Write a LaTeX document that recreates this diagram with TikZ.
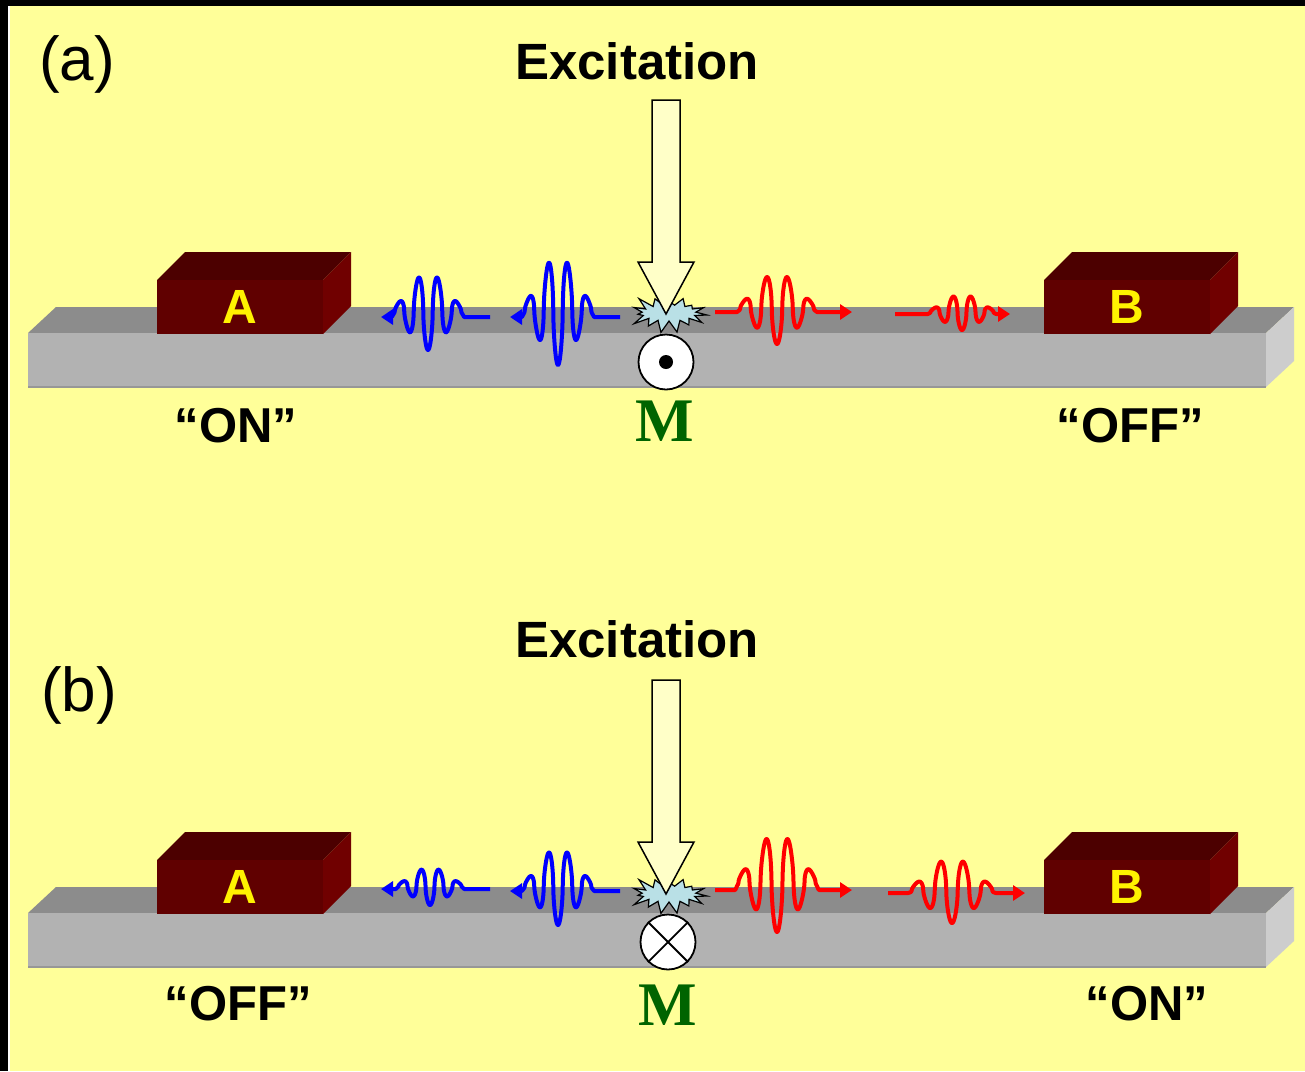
\documentclass[tikz,border=0pt]{standalone}
\usepackage{fontspec}
\setmainfont{Liberation Sans}
\newfontfamily\mfont{Liberation Serif}
\usetikzlibrary{arrows.meta,shapes.symbols}
\definecolor{paper}{HTML}{FFFF99}
\definecolor{railtop}{HTML}{8C8C8C}
\definecolor{railfront}{HTML}{B2B2B2}
\definecolor{railend}{HTML}{CDCDCD}
\definecolor{boxfront}{HTML}{600000}
\definecolor{boxtop}{HTML}{4C0000}
\definecolor{boxside}{HTML}{700000}
\definecolor{splash}{HTML}{B9E0E6}
\definecolor{pump}{HTML}{FFFFC8}
\definecolor{mgreen}{HTML}{006400}
\tikzset{
  pics/rail/.style args={#1/#2/#3/#4}{% #1=length, #2=thickness, #3=depth x, #4=depth y
    code = {
      % Top face
      \path[fill=railtop] (0,0) -- (#3,-#4) -- (#1+#3,-#4) -- (#1,0) -- cycle;
      % Front face
      \path[fill=railfront] (0,0) rectangle (#1,#2);
      % Right face
      \path[fill=railend] (#1,0) -- (#1+#3,-#4) -- (#1+#3,#2-#4) -- (#1,#2) -- cycle;
      \draw[railfront!85!black, line width=1.5pt] (0,#2) -- (#1,#2);
}}}
\tikzset{
  pics/block/.style args={#1/#2/#3/#4}{% #1=width, #2=height, #3=depth, #4=letter
    code = {
      % Top face
      \path[fill=boxtop] (0,0) -- (#3,-#3) -- (#1+#3,-#3) -- (#1,0) -- cycle;
      % Right face
      \path[fill=boxside] (#1,0) -- (#1+#3,-#3) -- (#1+#3,#2-#3) -- (#1,#2) -- cycle;
      % Front face
      \path[fill=boxfront] (0,0) rectangle (#1,#2);
      \node[text=yellow, font=\fontsize{48}{50}\selectfont\bfseries, inner sep=0pt] (-label) at (#1/2,#2/2) {#4};
}}}
\tikzset{
  pics/packet/.style args={#1/#2/#3/#4/#5}{% #1=amplitude, #2=wavelength, #3=tail, #4=run to tip, #5=tail drop
    code = {
      \coordinate (-in) at (-#3,#5);
      \coordinate (-out) at (#4,#5);
      \draw[line width=4pt, -{Triangle[length=12pt,width=15pt]}, line join=round] (-in)
        -- (-1.9*#2,#5)
        -- plot[domain=-1.8*#2:1.8*#2, samples=241]
           (\x,{#1*exp(-(\x/(1.25*#2))^2)*cos(360*\x/#2)/(abs(cos(360*\x/#2))+0.002)^0.45})
        -- (1.9*#2,#5) -- (-out);
}}}
\tikzset{
  pics/pump/.style args={#1/#2/#3/#4}{% #1=shaft length, #2=shaft width, #3=head width, #4=head length
    code = {
      \coordinate (-tip) at (0,0);
      \path[draw, fill=pump, line width=1.5pt, line join=miter] (-tip) -- (-#3/2,-#4) -- (-#2/2,-#4)
        -- (-#2/2,-#4-#1) -- (#2/2,-#4-#1) -- (#2/2,-#4) -- (#3/2,-#4) -- cycle;
}}}

\begin{document}
\begin{tikzpicture}[x=1pt, y=-1pt,
  txt/.style={inner sep=0pt, anchor=base},
  bluewave/.style={blue},
  redwave/.style={red},
  burst/.style={starburst, starburst points=15, starburst point height=14pt, random starburst=23,
    draw, line width=1.2pt, fill=splash, minimum width=82pt, minimum height=44pt, inner sep=0pt},
  probe/.style={circle, draw, line width=1.8pt, fill=white, minimum size=55pt, inner sep=0pt}]
  \useasboundingbox (0,0) rectangle (1305,1071);
  \fill[black] (0,0) rectangle (1305,1071);
  \fill[white] (8,6) rectangle (1305,1071);
  \fill[paper] (10,6) rectangle (1305,1071);

  % (a) molecule M switched so that A is on
  \node[txt, anchor=base west, font=\fontsize{62}{64}\selectfont] (a-tag) at (39,80) {(a)};
  \node[txt, font=\fontsize{51}{53}\selectfont\bfseries] (a-exc) at (637,79) {Excitation};
  \pic at (28,333) {rail={1238/54/28/26}};
  \pic (a-A) at (157,280) {block={166/54/28/A}};
  \pic (a-B) at (1044,280) {block={166/54/28/B}};
  \pic[bluewave, xscale=-1] (a-w1) at (558,310) {packet={55/19/62/48/7}};
  \pic[bluewave, xscale=-1] (a-w2) at (428,311) {packet={39/19/62/47/6}};
  \pic[redwave] (a-w3) at (777,308) {packet={36/21/62/75/4}};
  \pic[redwave] (a-w4) at (962,312) {packet={18/18/67/48/2}};
  \node[burst] (a-burst) at (669,313) {};
  \pic (a-pump) at (666,314) {pump={162/28/56/52}};
  \node[probe] (a-M) at (666,362) {};
  \fill (a-M.center) circle (7);
  \node[txt, font=\fontsize{62}{64}\selectfont\mfont\bfseries, text=mgreen] (a-Mlabel) at (665,441) {M};
  \node[txt, font=\fontsize{49}{51}\selectfont\bfseries] (a-on) at (236,442) {“ON”};
  \node[txt, font=\fontsize{49}{51}\selectfont\bfseries] (a-off) at (1130,442) {“OFF”};

  % (b) molecule M switched so that B is on
  \node[txt, anchor=base west, font=\fontsize{62}{64}\selectfont] (b-tag) at (41,711) {(b)};
  \node[txt, font=\fontsize{51}{53}\selectfont\bfseries] (b-exc) at (637,657) {Excitation};
  \pic at (28,913) {rail={1238/54/28/26}};
  \pic (b-A) at (157,860) {block={166/54/28/A}};
  \pic (b-B) at (1044,860) {block={166/54/28/B}};
  \pic[bluewave, xscale=-1] (b-w1) at (558,886) {packet={39/19/62/48/5}};
  \pic[bluewave, xscale=-1] (b-w2) at (430,886) {packet={19/18/60/49/3}};
  \pic[redwave] (b-w3) at (777,882) {packet={50/22/62/75/8}};
  \pic[redwave] (b-w4) at (952,890) {packet={33/23/64/73/3}};
  \node[burst] (b-burst) at (669,894) {};
  \pic (b-pump) at (666,894) {pump={162/28/56/52}};
  \node[probe] (b-M) at (668,942) {};
  \draw[line width=1.8pt] (b-M.north west) -- (b-M.south east);
  \draw[line width=1.8pt] (b-M.north east) -- (b-M.south west);
  \node[txt, font=\fontsize{62}{64}\selectfont\mfont\bfseries, text=mgreen] (b-Mlabel) at (668,1025) {M};
  \node[txt, font=\fontsize{49}{51}\selectfont\bfseries] (b-off) at (238,1020) {“OFF”};
  \node[txt, font=\fontsize{49}{51}\selectfont\bfseries] (b-on) at (1147,1020) {“ON”};
\end{tikzpicture}
\end{document}
